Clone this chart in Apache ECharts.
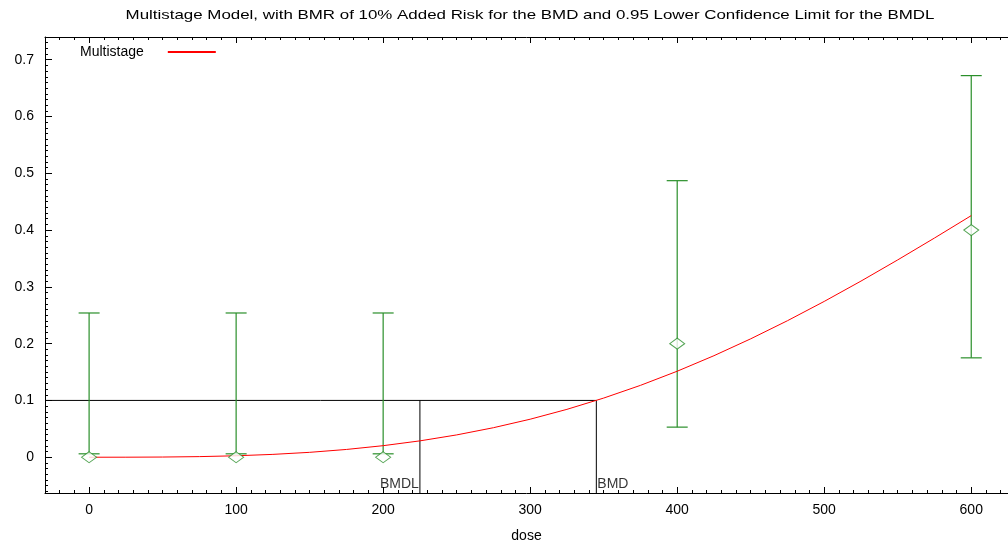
<!DOCTYPE html>
<html><head><meta charset="utf-8">
<script src="https://cdn.jsdelivr.net/npm/echarts@6/dist/echarts.min.js"></script>
<style>html,body{margin:0;padding:0;background:#fff}#c{width:1008px;height:540px}</style>
</head><body><div id="c"></div>
<script>
// ---- data ----
const doses = [0, 100, 200, 400, 600];
const observed = [0, 0, 0, 0.2, 0.4];
const lowerCI = [0.006, 0.006, 0.006, 0.053, 0.175];
const upperCI = [0.254, 0.254, 0.254, 0.487, 0.672];
const curveDoses = [0, 25, 50, 75, 100, 125, 150, 175, 200, 225, 250, 275, 300, 325, 350, 375, 400, 425, 450, 475, 500, 525, 550, 575, 600];
const curveValues = [0, 0.00004, 0.00032, 0.00108, 0.00256, 0.0050, 0.00862, 0.01366, 0.02032, 0.0288, 0.0393, 0.05196, 0.06693, 0.08431, 0.10416, 0.12655, 0.15144, 0.17878, 0.2085, 0.2404, 0.27437, 0.31015, 0.34747, 0.38601, 0.42545];
const bmr = 0.1;
const bmd = 345;
const bmdl = 225;
const xMajorTicks = [0, 100, 200, 300, 400, 500, 600];
const yMajorTicks = [0, 0.1, 0.2, 0.3, 0.4, 0.5, 0.6, 0.7];
const titleText = 'Multistage Model, with BMR of 10% Added Risk for the BMD and 0.95 Lower Confidence Limit for the BMDL';
const seriesName = 'Multistage';

const X_MIN = -30, X_MAX = 625, Y_MIN = -0.063, Y_MAX = 0.74;
const xMinorTicks = []; for (let v = -30; v <= 620; v += 10) xMinorTicks.push(v);
const yMinorTicks = []; for (let i = -6; i <= 74; i++) yMinorTicks.push(+(i / 100).toFixed(2));

const FONT = 'Liberation Sans';
const GREEN = '#2a8f2a';
const FS = 14;

function xAx(pos, ticks, len, showLine, showLabel) {
  return {
    type: 'value', position: pos, min: X_MIN, max: X_MAX,
    axisLine: { show: showLine, onZero: false, lineStyle: { color: '#000', width: 1 } },
    axisTick: { show: true, inside: true, length: len, customValues: ticks, lineStyle: { color: '#000' } },
    axisLabel: showLabel ? { show: true, customValues: xMajorTicks, margin: 10, color: '#000', fontFamily: FONT, fontSize: FS } : { show: false },
    splitLine: { show: false }
  };
}
function yAx(ticks, len, showLine, showLabel) {
  return {
    type: 'value', position: 'left', min: Y_MIN, max: Y_MAX,
    axisLine: { show: showLine, onZero: false, lineStyle: { color: '#000', width: 1 } },
    axisTick: { show: true, inside: true, length: len, customValues: ticks, lineStyle: { color: '#000' } },
    axisLabel: showLabel ? { show: true, customValues: yMajorTicks, margin: 11, color: '#000', fontFamily: FONT, fontSize: FS, formatter: v => String(v) } : { show: false },
    splitLine: { show: false }
  };
}

const xa0 = xAx('bottom', xMajorTicks, 6, true, true);
xa0.name = 'dose'; xa0.nameLocation = 'middle'; xa0.nameGap = 36;
xa0.nameTextStyle = { color: '#000', fontFamily: FONT, fontSize: FS };

const chart = echarts.init(document.getElementById('c'));
chart.setOption({
  animation: false,
  backgroundColor: '#fff',
  grid: { left: 45, right: 0, top: 37, bottom: 47, outerBoundsMode: 'none', containLabel: false },
  graphic: [{
    type: 'text', x: 530, y: 9, scaleX: 1.3, originX: 0,
    style: { text: titleText, fill: '#000', font: '13px "Liberation Sans"', textAlign: 'center', textVerticalAlign: 'top' }
  }],
  legend: {
    left: 80, top: 45, align: 'right', itemWidth: 48, itemHeight: 14, padding: 0,
    data: [{ name: seriesName }],
    itemStyle: { opacity: 0 },
    textStyle: { color: '#000', fontFamily: FONT, fontSize: FS, padding: [0, 19, 0, 0] },
    selectedMode: false
  },
  xAxis: [
    xa0,
    xAx('bottom', xMinorTicks, 3, false, false),
    xAx('top', xMajorTicks, 6, true, false),
    xAx('top', xMinorTicks, 3, false, false)
  ],
  yAxis: [
    yAx(yMajorTicks, 7, true, true),
    yAx(yMinorTicks, 3, false, false)
  ],
  series: [
    {
      name: 'bmdLines', type: 'line', silent: true, symbol: 'none', z: 1,
      lineStyle: { color: '#000', width: 1 },
      data: [[X_MIN, bmr], [bmd, bmr], [bmd, Y_MIN]]
    },
    {
      name: 'bmdlLine', type: 'line', silent: true, symbol: 'none', z: 1,
      lineStyle: { color: '#000', width: 1 },
      data: [[bmdl, bmr], [bmdl, Y_MIN]]
    },
    {
      name: 'bmdLabels', type: 'scatter', silent: true, symbolSize: 0, z: 5,
      data: [
        { value: [bmdl, Y_MIN], label: { show: true, formatter: 'BMDL', position: 'left', distance: 1, offset: [0, -9] } },
        { value: [bmd, Y_MIN], label: { show: true, formatter: 'BMD', position: 'right', distance: 1, offset: [0, -9] } }
      ],
      label: { color: '#000', fontFamily: FONT, fontSize: FS }
    },
    {
      name: seriesName, type: 'line', symbol: 'none', z: 3,
      lineStyle: { color: '#ff0000', width: 1 }, itemStyle: { color: '#ff0000' },
      data: curveDoses.map((d, i) => [d, curveValues[i]])
    },
    {
      name: 'errorBars', type: 'custom', silent: true, z: 2,
      encode: { x: 0, y: [1, 2] },
      data: doses.map((d, i) => [d, lowerCI[i], upperCI[i]]),
      renderItem(params, api) {
        const x = api.value(0);
        const lo = api.coord([x, api.value(1)]);
        const hi = api.coord([x, api.value(2)]);
        const hw = 10.5;
        const st = { stroke: GREEN, lineWidth: 1.2 };
        return {
          type: 'group', children: [
            { type: 'line', shape: { x1: lo[0], y1: lo[1], x2: hi[0], y2: hi[1] }, style: st },
            { type: 'line', shape: { x1: lo[0] - hw, y1: lo[1], x2: lo[0] + hw, y2: lo[1] }, style: st },
            { type: 'line', shape: { x1: hi[0] - hw, y1: hi[1], x2: hi[0] + hw, y2: hi[1] }, style: st }
          ]
        };
      }
    },
    {
      name: 'observed', type: 'scatter', silent: true, z: 4,
      symbol: 'diamond', symbolSize: [15, 11],
      itemStyle: { color: '#fff', borderColor: GREEN, borderWidth: 1 },
      data: doses.map((d, i) => [d, observed[i]])
    }
  ]
});
</script></body></html>
